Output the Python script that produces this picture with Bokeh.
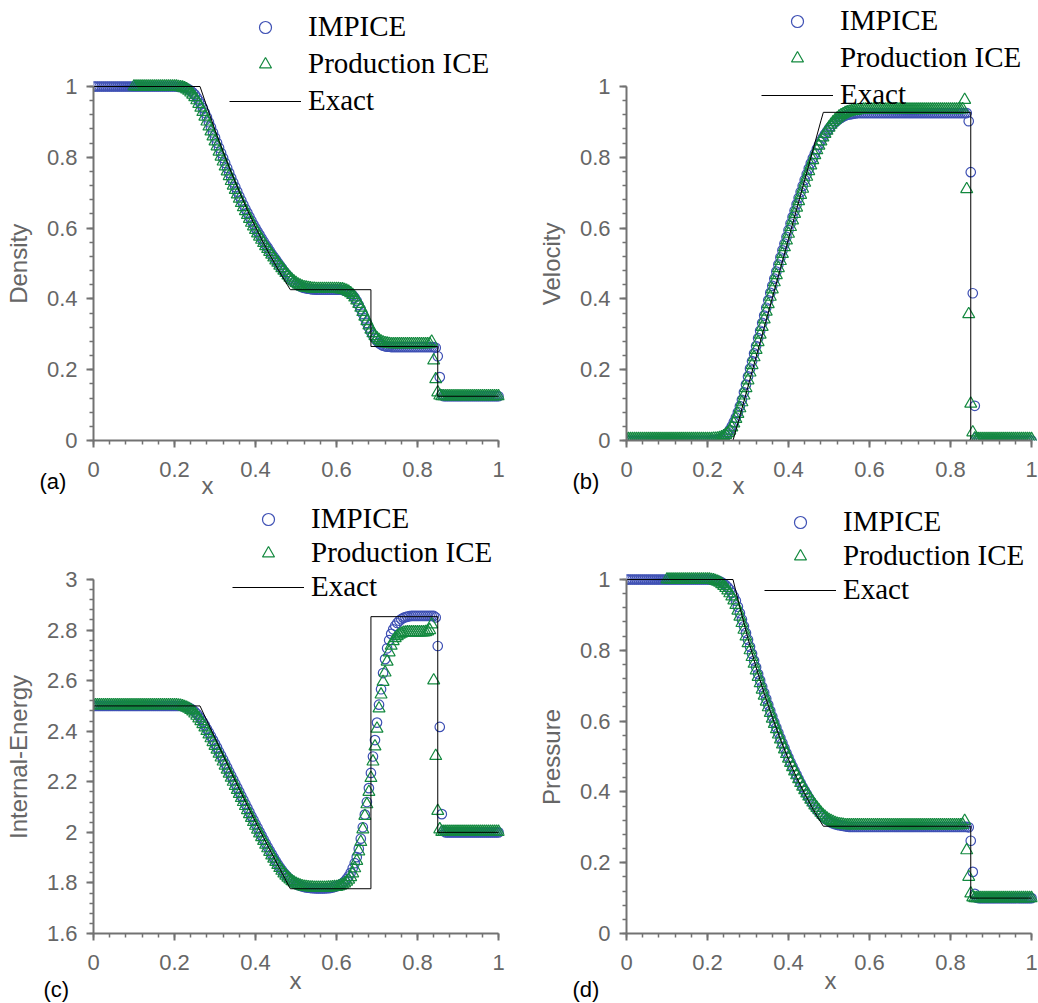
import numpy as np
from bokeh.plotting import figure
from bokeh.models import (Range1d, SingleIntervalTicker, CustomJSTickFormatter,
                          Legend, Title)
from bokeh.layouts import column, row
from bokeh.embed import file_html
from bokeh.resources import INLINE

# ---------------- data ----------------
DX = 0.005
N_CELLS = 201
x_cells = np.round(np.arange(N_CELLS) * DX, 4)

series_names = ["IMPICE", "Production ICE", "Exact"]

rho_impice = [
    1.0, 1.0, 1.0, 1.0, 1.0, 1.0, 1.0, 1.0, 1.0, 1.0,
    1.0, 1.0, 1.0, 1.0, 1.0, 1.0, 1.0, 1.0, 1.0, 1.0,
    1.0, 1.0, 1.0, 1.0, 1.0, 1.0, 1.0, 1.0, 1.0, 1.0,
    1.0, 1.0, 1.0, 1.0, 1.0, 1.0, 1.0, 1.0, 1.0, 1.0,
    1.0, 1.0, 0.999, 0.999, 0.998, 0.997, 0.995, 0.992, 0.988, 0.983,
    0.977, 0.969, 0.960, 0.950, 0.939, 0.926, 0.913, 0.899, 0.885, 0.870,
    0.856, 0.841, 0.827, 0.812, 0.798, 0.784, 0.770, 0.756, 0.742, 0.729,
    0.716, 0.703, 0.690, 0.678, 0.666, 0.654, 0.643, 0.632, 0.621, 0.610,
    0.600, 0.590, 0.581, 0.571, 0.562, 0.553, 0.545, 0.536, 0.527, 0.519,
    0.511, 0.503, 0.495, 0.487, 0.479, 0.472, 0.465, 0.458, 0.452, 0.447,
    0.443, 0.439, 0.436, 0.433, 0.431, 0.430, 0.429, 0.428, 0.427, 0.427,
    0.426, 0.426, 0.426, 0.426, 0.426, 0.426, 0.426, 0.426, 0.426, 0.426,
    0.426, 0.426, 0.426, 0.425, 0.424, 0.422, 0.419, 0.415, 0.410, 0.403,
    0.394, 0.383, 0.371, 0.358, 0.345, 0.332, 0.319, 0.307, 0.297, 0.288,
    0.281, 0.275, 0.271, 0.268, 0.266, 0.265, 0.265, 0.264, 0.264, 0.264,
    0.264, 0.264, 0.264, 0.264, 0.264, 0.264, 0.264, 0.264, 0.264, 0.264,
    0.264, 0.264, 0.264, 0.264, 0.264, 0.264, 0.264, 0.264, 0.264, 0.262,
    0.238, 0.179, 0.130, 0.125, 0.125, 0.125, 0.125, 0.125, 0.125, 0.125,
    0.125, 0.125, 0.125, 0.125, 0.125, 0.125, 0.125, 0.125, 0.125, 0.125,
    0.125, 0.125, 0.125, 0.125, 0.125, 0.125, 0.125, 0.125, 0.125, 0.125,
    0.125,
]
rho_ice = [
    None, None, None, None, None, None, None, None, None, None,
    None, None, None, None, None, None, None, None, None, None,
    1.0, 1.0, 1.0, 1.0, 1.0, 1.0, 1.0, 1.0, 1.0, 1.0,
    1.0, 1.0, 1.0, 1.0, 1.0, 1.0, 1.0, 1.0, 1.0, 1.0,
    1.0, 1.0, 0.999, 0.998, 0.997, 0.995, 0.992, 0.988, 0.983, 0.977,
    0.970, 0.961, 0.951, 0.940, 0.928, 0.915, 0.901, 0.887, 0.873, 0.859,
    0.845, 0.831, 0.816, 0.802, 0.788, 0.774, 0.760, 0.747, 0.733, 0.720,
    0.708, 0.695, 0.683, 0.671, 0.659, 0.648, 0.637, 0.626, 0.615, 0.605,
    0.595, 0.585, 0.576, 0.567, 0.558, 0.549, 0.541, 0.533, 0.525, 0.517,
    0.509, 0.502, 0.494, 0.487, 0.480, 0.473, 0.466, 0.460, 0.454, 0.449,
    0.445, 0.441, 0.438, 0.435, 0.433, 0.432, 0.431, 0.430, 0.429, 0.429,
    0.428, 0.428, 0.428, 0.428, 0.428, 0.428, 0.428, 0.428, 0.428, 0.428,
    0.428, 0.428, 0.427, 0.427, 0.425, 0.423, 0.420, 0.416, 0.411, 0.404,
    0.396, 0.386, 0.375, 0.363, 0.350, 0.337, 0.325, 0.313, 0.303, 0.295,
    0.289, 0.284, 0.280, 0.277, 0.275, 0.274, 0.273, 0.272, 0.272, 0.272,
    0.272, 0.272, 0.272, 0.272, 0.272, 0.272, 0.272, 0.272, 0.272, 0.272,
    0.272, 0.272, 0.272, 0.272, 0.272, 0.272, 0.273, 0.279, 0.226, 0.173,
    0.136, 0.127, 0.125, 0.125, 0.125, 0.125, 0.125, 0.125, 0.125, 0.125,
    0.125, 0.125, 0.125, 0.125, 0.125, 0.125, 0.125, 0.125, 0.125, 0.125,
    0.125, 0.125, 0.125, 0.125, 0.125, 0.125, 0.125, 0.125, 0.125, 0.125,
    0.125,
]
u_impice = [
    0.0, 0.0, 0.0, 0.0, 0.0, 0.0, 0.0, 0.0, 0.0, 0.0,
    0.0, 0.0, 0.0, 0.0, 0.0, 0.0, 0.0, 0.0, 0.0, 0.0,
    0.0, 0.0, 0.0, 0.0, 0.0, 0.0, 0.0, 0.0, 0.0, 0.0,
    0.0, 0.0, 0.0, 0.0, 0.0, 0.0, 0.0, 0.0, 0.0, 0.0,
    0.000, 0.000, 0.001, 0.001, 0.002, 0.003, 0.004, 0.007, 0.010, 0.015,
    0.022, 0.030, 0.040, 0.052, 0.065, 0.080, 0.097, 0.115, 0.136, 0.158,
    0.181, 0.203, 0.224, 0.246, 0.267, 0.289, 0.310, 0.332, 0.353, 0.375,
    0.396, 0.417, 0.437, 0.457, 0.477, 0.497, 0.517, 0.537, 0.556, 0.575,
    0.594, 0.613, 0.631, 0.649, 0.667, 0.685, 0.702, 0.719, 0.736, 0.752,
    0.768, 0.783, 0.797, 0.810, 0.823, 0.835, 0.846, 0.856, 0.865, 0.873,
    0.881, 0.888, 0.894, 0.899, 0.904, 0.908, 0.912, 0.915, 0.918, 0.920,
    0.921, 0.922, 0.923, 0.924, 0.925, 0.925, 0.925, 0.925, 0.925, 0.925,
    0.925, 0.925, 0.925, 0.925, 0.925, 0.925, 0.925, 0.925, 0.925, 0.925,
    0.925, 0.925, 0.925, 0.925, 0.925, 0.925, 0.925, 0.925, 0.925, 0.925,
    0.925, 0.925, 0.925, 0.925, 0.925, 0.925, 0.925, 0.925, 0.925, 0.925,
    0.925, 0.925, 0.925, 0.925, 0.925, 0.925, 0.925, 0.925, 0.925, 0.925,
    0.925, 0.925, 0.925, 0.925, 0.925, 0.925, 0.925, 0.925, 0.925, 0.902,
    0.758, 0.416, 0.098, 0.008, 0.001, 0.0, 0.0, 0.0, 0.0, 0.0,
    0.0, 0.0, 0.0, 0.0, 0.0, 0.0, 0.0, 0.0, 0.0, 0.0,
    0.0, 0.0, 0.0, 0.0, 0.0, 0.0, 0.0, 0.0, 0.0, 0.0,
    0.0,
]
u_ice = [
    0.004, 0.004, 0.004, 0.004, 0.004, 0.004, 0.004, 0.004, 0.004, 0.004,
    0.004, 0.004, 0.004, 0.004, 0.004, 0.004, 0.004, 0.004, 0.004, 0.004,
    0.004, 0.004, 0.004, 0.004, 0.004, 0.004, 0.004, 0.004, 0.004, 0.004,
    0.004, 0.004, 0.004, 0.004, 0.004, 0.004, 0.004, 0.004, 0.004, 0.004,
    0.004, 0.004, 0.004, 0.005, 0.005, 0.006, 0.007, 0.009, 0.012, 0.016,
    0.021, 0.028, 0.037, 0.048, 0.061, 0.075, 0.091, 0.108, 0.127, 0.148,
    0.170, 0.192, 0.213, 0.235, 0.256, 0.278, 0.299, 0.321, 0.342, 0.364,
    0.385, 0.406, 0.427, 0.447, 0.467, 0.487, 0.507, 0.527, 0.546, 0.565,
    0.584, 0.603, 0.622, 0.640, 0.658, 0.676, 0.694, 0.711, 0.728, 0.745,
    0.761, 0.777, 0.792, 0.806, 0.820, 0.833, 0.845, 0.856, 0.866, 0.875,
    0.884, 0.892, 0.899, 0.905, 0.910, 0.915, 0.919, 0.922, 0.925, 0.927,
    0.929, 0.930, 0.931, 0.932, 0.933, 0.934, 0.934, 0.935, 0.935, 0.935,
    0.935, 0.935, 0.935, 0.935, 0.935, 0.935, 0.935, 0.935, 0.935, 0.935,
    0.935, 0.935, 0.935, 0.935, 0.935, 0.935, 0.935, 0.935, 0.935, 0.935,
    0.935, 0.935, 0.935, 0.935, 0.935, 0.935, 0.935, 0.935, 0.935, 0.935,
    0.935, 0.935, 0.935, 0.935, 0.935, 0.935, 0.935, 0.935, 0.935, 0.935,
    0.935, 0.935, 0.935, 0.935, 0.935, 0.935, 0.936, 0.962, 0.710, 0.357,
    0.104, 0.023, 0.006, 0.004, 0.004, 0.004, 0.004, 0.004, 0.004, 0.004,
    0.004, 0.004, 0.004, 0.004, 0.004, 0.004, 0.004, 0.004, 0.004, 0.004,
    0.004, 0.004, 0.004, 0.004, 0.004, 0.004, 0.004, 0.004, 0.004, 0.004,
    0.004,
]
e_impice = [
    2.5, 2.5, 2.5, 2.5, 2.5, 2.5, 2.5, 2.5, 2.5, 2.5,
    2.5, 2.5, 2.5, 2.5, 2.5, 2.5, 2.5, 2.5, 2.5, 2.5,
    2.5, 2.5, 2.5, 2.5, 2.5, 2.5, 2.5, 2.5, 2.5, 2.5,
    2.5, 2.5, 2.5, 2.5, 2.5, 2.5, 2.5, 2.5, 2.5, 2.5,
    2.500, 2.500, 2.500, 2.500, 2.499, 2.498, 2.496, 2.493, 2.489, 2.484,
    2.477, 2.469, 2.459, 2.448, 2.436, 2.423, 2.409, 2.395, 2.380, 2.365,
    2.350, 2.335, 2.319, 2.304, 2.288, 2.272, 2.256, 2.240, 2.224, 2.208,
    2.192, 2.176, 2.160, 2.144, 2.128, 2.112, 2.096, 2.080, 2.064, 2.049,
    2.033, 2.018, 2.002, 1.987, 1.972, 1.957, 1.942, 1.928, 1.914, 1.900,
    1.887, 1.874, 1.862, 1.851, 1.840, 1.831, 1.822, 1.814, 1.807, 1.801,
    1.796, 1.792, 1.789, 1.786, 1.784, 1.782, 1.781, 1.780, 1.779, 1.779,
    1.778, 1.778, 1.778, 1.778, 1.778, 1.779, 1.779, 1.780, 1.782, 1.784,
    1.787, 1.790, 1.794, 1.799, 1.806, 1.815, 1.826, 1.840, 1.858, 1.878,
    1.902, 1.935, 1.975, 2.020, 2.070, 2.120, 2.175, 2.235, 2.300, 2.365,
    2.434, 2.505, 2.566, 2.630, 2.685, 2.728, 2.760, 2.785, 2.803, 2.817,
    2.828, 2.837, 2.843, 2.848, 2.851, 2.853, 2.855, 2.856, 2.856, 2.856,
    2.856, 2.856, 2.856, 2.856, 2.856, 2.856, 2.856, 2.856, 2.856, 2.850,
    2.737, 2.417, 2.072, 2.005, 2.0, 2.0, 2.0, 2.0, 2.0, 2.0,
    2.0, 2.0, 2.0, 2.0, 2.0, 2.0, 2.0, 2.0, 2.0, 2.0,
    2.0, 2.0, 2.0, 2.0, 2.0, 2.0, 2.0, 2.0, 2.0, 2.0,
    2.0,
]
e_ice = [
    2.503, 2.503, 2.503, 2.503, 2.503, 2.503, 2.503, 2.503, 2.503, 2.503,
    2.503, 2.503, 2.503, 2.503, 2.503, 2.503, 2.503, 2.503, 2.503, 2.503,
    2.503, 2.503, 2.503, 2.503, 2.503, 2.503, 2.503, 2.503, 2.503, 2.503,
    2.503, 2.503, 2.503, 2.503, 2.503, 2.503, 2.503, 2.503, 2.503, 2.503,
    2.503, 2.503, 2.502, 2.501, 2.499, 2.496, 2.493, 2.489, 2.484, 2.478,
    2.470, 2.461, 2.451, 2.440, 2.428, 2.415, 2.401, 2.387, 2.372, 2.357,
    2.342, 2.327, 2.311, 2.296, 2.280, 2.264, 2.248, 2.232, 2.216, 2.200,
    2.184, 2.168, 2.152, 2.136, 2.120, 2.104, 2.088, 2.072, 2.057, 2.041,
    2.026, 2.011, 1.996, 1.981, 1.966, 1.951, 1.937, 1.923, 1.909, 1.896,
    1.883, 1.871, 1.859, 1.848, 1.838, 1.829, 1.821, 1.814, 1.807, 1.802,
    1.797, 1.793, 1.790, 1.787, 1.785, 1.784, 1.783, 1.782, 1.782, 1.781,
    1.781, 1.781, 1.781, 1.781, 1.781, 1.781, 1.782, 1.782, 1.783, 1.784,
    1.784, 1.786, 1.789, 1.793, 1.798, 1.805, 1.813, 1.823, 1.838, 1.858,
    1.887, 1.925, 1.962, 2.012, 2.065, 2.111, 2.160, 2.215, 2.280, 2.340,
    2.410, 2.490, 2.545, 2.595, 2.632, 2.675, 2.712, 2.738, 2.756, 2.768,
    2.776, 2.782, 2.786, 2.789, 2.790, 2.791, 2.791, 2.791, 2.791, 2.791,
    2.791, 2.791, 2.791, 2.791, 2.792, 2.795, 2.800, 2.822, 2.601, 2.302,
    2.085, 2.012, 2.002, 2.002, 2.002, 2.002, 2.002, 2.002, 2.002, 2.002,
    2.002, 2.002, 2.002, 2.002, 2.002, 2.002, 2.002, 2.002, 2.002, 2.002,
    2.002, 2.002, 2.002, 2.002, 2.002, 2.002, 2.002, 2.002, 2.002, 2.002,
    2.002,
]
p_impice = [
    1.0, 1.0, 1.0, 1.0, 1.0, 1.0, 1.0, 1.0, 1.0, 1.0,
    1.0, 1.0, 1.0, 1.0, 1.0, 1.0, 1.0, 1.0, 1.0, 1.0,
    1.0, 1.0, 1.0, 1.0, 1.0, 1.0, 1.0, 1.0, 1.0, 1.0,
    1.0, 1.0, 1.0, 1.0, 1.0, 1.0, 1.0, 1.0, 1.0, 1.0,
    1.0, 1.0, 0.999, 0.999, 0.998, 0.997, 0.995, 0.992, 0.988, 0.984,
    0.978, 0.971, 0.962, 0.952, 0.940, 0.923, 0.905, 0.887, 0.868, 0.849,
    0.830, 0.810, 0.790, 0.771, 0.752, 0.733, 0.715, 0.697, 0.680, 0.663,
    0.646, 0.629, 0.613, 0.597, 0.582, 0.567, 0.552, 0.538, 0.524, 0.510,
    0.497, 0.484, 0.472, 0.460, 0.448, 0.436, 0.425, 0.414, 0.404, 0.394,
    0.384, 0.375, 0.366, 0.358, 0.350, 0.343, 0.336, 0.330, 0.325, 0.321,
    0.317, 0.314, 0.311, 0.309, 0.307, 0.306, 0.305, 0.304, 0.303, 0.302,
    0.301, 0.301, 0.301, 0.301, 0.301, 0.301, 0.301, 0.301, 0.301, 0.301,
    0.301, 0.301, 0.301, 0.301, 0.301, 0.301, 0.301, 0.301, 0.301, 0.301,
    0.301, 0.301, 0.301, 0.301, 0.301, 0.301, 0.301, 0.301, 0.301, 0.301,
    0.301, 0.301, 0.301, 0.301, 0.301, 0.301, 0.301, 0.301, 0.301, 0.301,
    0.301, 0.301, 0.301, 0.301, 0.301, 0.301, 0.301, 0.301, 0.301, 0.301,
    0.301, 0.301, 0.301, 0.301, 0.301, 0.301, 0.301, 0.301, 0.301, 0.300,
    0.262, 0.174, 0.112, 0.101, 0.100, 0.100, 0.100, 0.100, 0.100, 0.100,
    0.100, 0.100, 0.100, 0.100, 0.100, 0.100, 0.100, 0.100, 0.100, 0.100,
    0.100, 0.100, 0.100, 0.100, 0.100, 0.100, 0.100, 0.100, 0.100, 0.100,
    0.100,
]
p_ice = [
    None, None, None, None, None, None, None, None, None, None,
    None, None, None, None, None, None, None, None, None, None,
    1.0, 1.0, 1.0, 1.0, 1.0, 1.0, 1.0, 1.0, 1.0, 1.0,
    1.0, 1.0, 1.0, 1.0, 1.0, 1.0, 1.0, 1.0, 1.0, 1.0,
    1.0, 1.0, 0.999, 0.998, 0.996, 0.994, 0.991, 0.987, 0.982, 0.976,
    0.969, 0.961, 0.952, 0.941, 0.928, 0.912, 0.895, 0.877, 0.858, 0.839,
    0.820, 0.800, 0.781, 0.762, 0.743, 0.725, 0.707, 0.689, 0.672, 0.655,
    0.639, 0.623, 0.607, 0.592, 0.577, 0.562, 0.548, 0.534, 0.520, 0.507,
    0.494, 0.482, 0.470, 0.458, 0.447, 0.436, 0.425, 0.415, 0.405, 0.396,
    0.387, 0.378, 0.370, 0.362, 0.355, 0.348, 0.341, 0.335, 0.330, 0.325,
    0.321, 0.318, 0.315, 0.312, 0.310, 0.309, 0.308, 0.307, 0.306, 0.306,
    0.306, 0.306, 0.306, 0.306, 0.306, 0.306, 0.306, 0.306, 0.306, 0.306,
    0.306, 0.306, 0.306, 0.306, 0.306, 0.306, 0.306, 0.306, 0.306, 0.306,
    0.306, 0.306, 0.306, 0.306, 0.306, 0.306, 0.306, 0.306, 0.306, 0.306,
    0.306, 0.306, 0.306, 0.306, 0.306, 0.306, 0.306, 0.306, 0.306, 0.306,
    0.306, 0.306, 0.306, 0.306, 0.306, 0.306, 0.306, 0.306, 0.306, 0.306,
    0.306, 0.306, 0.306, 0.306, 0.306, 0.306, 0.307, 0.318, 0.235, 0.160,
    0.113, 0.102, 0.100, 0.100, 0.100, 0.100, 0.100, 0.100, 0.100, 0.100,
    0.100, 0.100, 0.100, 0.100, 0.100, 0.100, 0.100, 0.100, 0.100, 0.100,
    0.100, 0.100, 0.100, 0.100, 0.100, 0.100, 0.100, 0.100, 0.100, 0.100,
    0.100,
]

# exact Riemann solution (breakpoints)
exact_x = [0.0, 0.263, 0.28, 0.30, 0.32, 0.34, 0.36, 0.38, 0.40, 0.42, 0.44,
           0.46, 0.48, 0.486, 0.685, 0.685, 0.850, 0.850, 1.0]
exact_rho = [1.0, 1.0, 0.943, 0.877, 0.816, 0.758, 0.703, 0.651, 0.603, 0.557,
             0.515, 0.475, 0.437, 0.426, 0.426, 0.2656, 0.2656, 0.125, 0.125]
exact_u = [0.0, 0.0, 0.069, 0.153, 0.236, 0.319, 0.403, 0.486, 0.569, 0.653,
           0.736, 0.819, 0.903, 0.927, 0.927, 0.927, 0.927, 0.0, 0.0]
exact_e = [2.5, 2.5, 2.442, 2.373, 2.305, 2.237, 2.171, 2.106, 2.042, 1.979,
           1.917, 1.856, 1.795, 1.777, 1.777, 2.853, 2.853, 2.0, 2.0]
exact_p = [1.0, 1.0, 0.921, 0.833, 0.752, 0.678, 0.611, 0.549, 0.492, 0.441,
           0.395, 0.352, 0.314, 0.303, 0.303, 0.303, 0.303, 0.1, 0.1]

# ---------------- style ----------------
BLUE = "#3e50b4"
GREEN = "#13893f"
AXIS_GRAY = "#727272"
TEXT_GRAY = "#666666"
SANS = "Liberation Sans"
SERIF = "Liberation Serif"
NBSP = "\u00a0"

FRAME_W = 411
X_END = 411.0 / 405.0
PX_AXIS = 354.0   # pixel length of the drawn y axis


def add_caption(p, text, color, size, offset, standoff):
    p.add_layout(Title(text=text, align="left", vertical_align="top",
                       offset=offset, standoff=standoff, text_font=SANS,
                       text_font_size=size, text_color=color,
                       text_font_style="normal"), "below")


def make_panel(blue, green, ex_y, ylo, yhi, ylabel, label_pad, frame_h,
               borders, legend_loc, legend_spacing, captions):
    bl, br, bb = borders
    y_end = ylo + (yhi - ylo) * frame_h / PX_AXIS
    p = figure(frame_width=FRAME_W, frame_height=frame_h,
               x_range=Range1d(0, X_END), y_range=Range1d(ylo, y_end),
               output_backend="svg", toolbar_location=None,
               min_border_left=bl, min_border_right=br,
               min_border_top=0, min_border_bottom=bb)
    p.outline_line_color = None
    p.xgrid.visible = False
    p.ygrid.visible = False
    p.background_fill_color = "white"
    p.border_fill_color = "white"

    for ax in (p.xaxis[0], p.yaxis[0]):
        ax.ticker = SingleIntervalTicker(interval=0.2, num_minor_ticks=5)
        ax.formatter = CustomJSTickFormatter(
            code="return String(Math.round(tick * 10) / 10);")
        ax.axis_line_color = AXIS_GRAY
        ax.axis_line_width = 2
        ax.major_tick_line_color = AXIS_GRAY
        ax.major_tick_line_width = 2
        ax.major_tick_in = 0
        ax.major_tick_out = 7
        ax.minor_tick_line_color = AXIS_GRAY
        ax.minor_tick_line_width = 1.5
        ax.minor_tick_in = 0
        ax.minor_tick_out = 4
        ax.major_label_text_font = SANS
        ax.major_label_text_font_size = "22px"
        ax.major_label_text_color = TEXT_GRAY
    p.xaxis.bounds = (0, 1)
    p.yaxis.bounds = (ylo, yhi)
    p.xaxis.major_label_standoff = 14
    p.yaxis.major_label_standoff = 9
    # trailing no-break spaces keep the label centred on the drawn axis
    p.yaxis.axis_label = ylabel + NBSP * label_pad
    p.yaxis.axis_label_text_font = SANS
    p.yaxis.axis_label_text_font_size = "24px"
    p.yaxis.axis_label_text_font_style = "normal"
    p.yaxis.axis_label_text_color = TEXT_GRAY
    p.yaxis.axis_label_standoff = 12

    yb = np.array(blue, dtype=float)
    yg = np.array(green, dtype=float)
    r_b = p.scatter(x_cells, yb, marker="circle", size=9.5, fill_color=None,
                    line_color=BLUE, line_width=1.2)
    r_g = p.scatter(x_cells, yg, marker="triangle", size=12, fill_color=None,
                    line_color=GREEN, line_width=1.2)
    r_e = p.line(exact_x, ex_y, line_color="black", line_width=1)

    legend = Legend(items=[(series_names[0], [r_b]),
                           (series_names[1], [r_g]),
                           (series_names[2], [r_e])],
                    location=legend_loc)
    legend.label_text_font = SERIF
    legend.label_text_font_size = "29px"
    legend.label_text_color = "black"
    legend.glyph_width = 72
    legend.glyph_height = 30
    legend.label_height = 30
    legend.label_standoff = 7
    legend.spacing = legend_spacing
    legend.padding = 0
    legend.margin = 0
    legend.border_line_color = None
    legend.background_fill_alpha = 0
    p.add_layout(legend, "center")

    for (text, color, size, offset, standoff) in captions:
        add_caption(p, text, color, size, offset, standoff)
    return p


pa = make_panel(rho_impice, rho_ice, exact_rho, 0.0, 1.0, "Density", 13, 440,
                (93, 15, 60), (136, 323), 4,
                [("(a)", "black", "22px", -54, -21),
                 ("x", TEXT_GRAY, "24px", 108, -27)])
pb = make_panel(u_impice, u_ice, exact_u, 0.0, 1.0, "Velocity", 13, 440,
                (107, 1, 60), (135, 329), 4,
                [("(b)", "black", "22px", -54, -21),
                 ("x", TEXT_GRAY, "24px", 106, -27)])
pc = make_panel(e_impice, e_ice, exact_e, 1.6, 3.0, "Internal-Energy", 12, 433,
                (93, 15, 70), (139, 330), 1,
                [("x", TEXT_GRAY, "24px", 196, -12),
                 ("(c)", "black", "22px", -50, -25)])
pd = make_panel(p_impice, p_ice, exact_p, 0.0, 1.0, "Pressure", 12, 433,
                (107, 1, 70), (138, 327), 1,
                [("x", TEXT_GRAY, "24px", 198, -12),
                 ("(d)", "black", "22px", -54, -25)])

layout = column(row(pa, pb), row(pc, pd))

with open("out.html", "w") as f:
    f.write(file_html(layout, INLINE))
